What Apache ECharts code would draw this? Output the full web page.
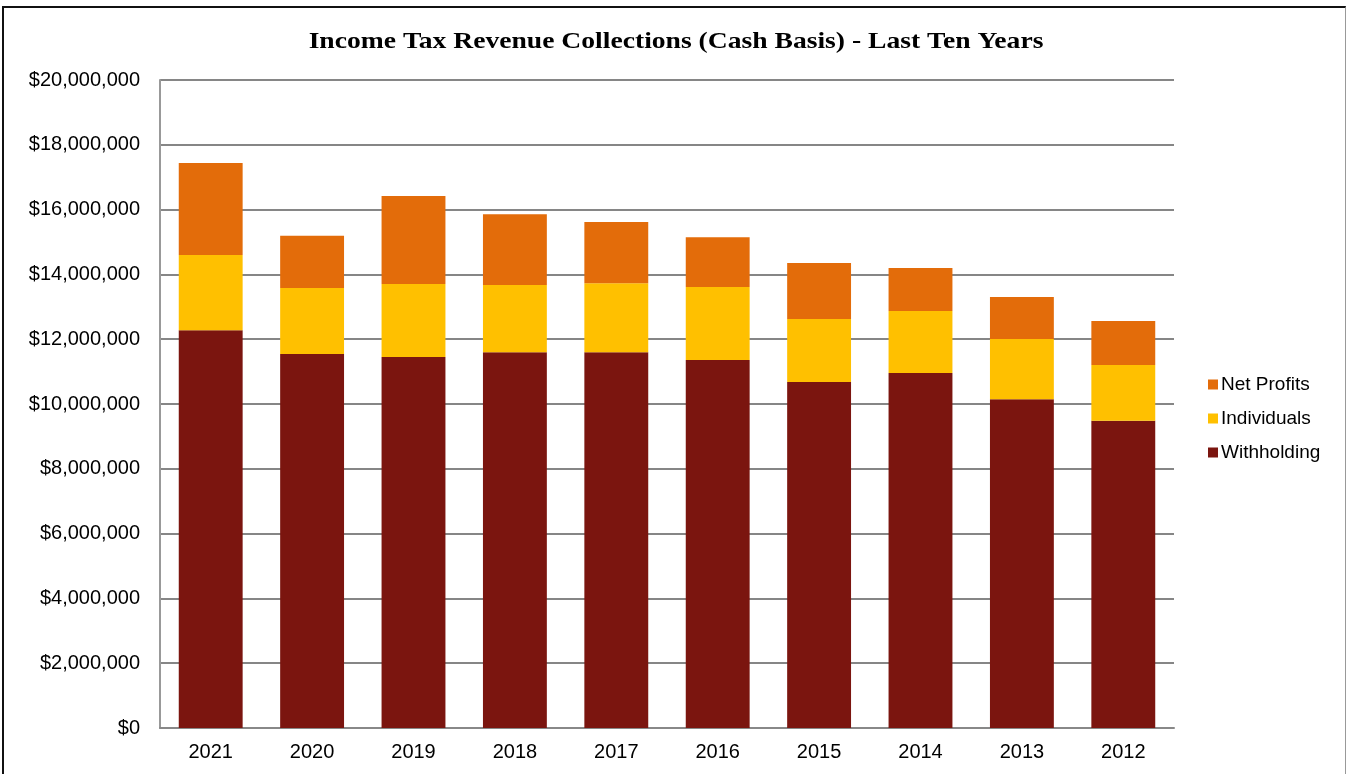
<!DOCTYPE html>
<html>
<head>
<meta charset="utf-8">
<title>Income Tax Revenue Collections</title>
<script src="https://cdn.jsdelivr.net/npm/echarts@6/dist/echarts.min.js"></script>
<style>
  html, body { margin: 0; padding: 0; background: #fff; }
  #frame {
    position: absolute; left: 2px; top: 6px; width: 1344px; height: 768px;
    border-top: 2px solid #111; border-left: 2px solid #111; border-right: 1px solid #999;
    box-sizing: border-box;
  }
  #chart { position: absolute; left: 0; top: 0; width: 1347px; height: 774px; }
</style>
</head>
<body>
<div id="frame"></div>
<div id="chart"></div>
<script>
// Fiscal years, most recent first
const years = ['2021', '2020', '2019', '2018', '2017', '2016', '2015', '2014', '2013', '2012'];

// Collections by source, in dollars
const withholding = [12280000, 11540000, 11450000, 11600000, 11600000, 11360000, 10680000, 10960000, 10150000, 9480000];
const individuals = [2320000, 2040000, 2250000, 2070000, 2130000, 2250000, 1940000, 1910000, 1860000, 1720000];
const netProfits = [2840000, 1610000, 2720000, 2190000, 1890000, 1540000, 1730000, 1330000, 1290000, 1360000];

const seriesNames = ['Withholding', 'Individuals', 'Net Profits'];
const legendOrder = ['Net Profits', 'Individuals', 'Withholding'];
const titleText = 'Income Tax Revenue Collections (Cash Basis) - Last Ten Years';

const font = '"Liberation Sans", Arial, sans-serif';

const chart = echarts.init(document.getElementById('chart'), null, { renderer: 'canvas' });

function money(v) {
  return '$' + v.toString().replace(/\B(?=(\d{3})+(?!\d))/g, ',');
}

function bar(name, data, color) {
  return {
    name: name,
    type: 'bar',
    stack: 'total',
    data: data,
    barCategoryGap: '37%',
    itemStyle: { color: color },
    emphasis: { disabled: true }
  };
}

chart.setOption({
  animation: false,
  backgroundColor: 'transparent',
  // Wide, heavy serif heading
  graphic: [{
    type: 'text',
    x: 676,
    y: 42,
    scaleX: 1.2,
    silent: true,
    style: {
      text: titleText,
      font: 'bold 23px "Liberation Serif", "Times New Roman", serif',
      fill: '#000',
      textAlign: 'center',
      textVerticalAlign: 'middle'
    }
  }],
  legend: {
    data: legendOrder,
    orient: 'vertical',
    left: 1203,
    top: 370,
    itemWidth: 10,
    itemHeight: 10,
    itemGap: 15,
    icon: 'rect',
    textStyle: { fontFamily: font, fontSize: 19, color: '#000', padding: [0, 0, 0, -2] }
  },
  grid: { left: 160, right: 173, top: 80, bottom: 46, containLabel: false },
  xAxis: {
    type: 'category',
    data: years,
    axisLine: { lineStyle: { color: '#888', width: 2 } },
    axisTick: { show: false },
    axisLabel: { fontFamily: font, fontSize: 20, color: '#000', margin: 14 },
    splitLine: { show: false }
  },
  yAxis: {
    type: 'value',
    min: 0,
    max: 20000000,
    interval: 2000000,
    axisLine: { show: true, lineStyle: { color: '#999', width: 2 } },
    axisTick: { show: false },
    axisLabel: { fontFamily: font, fontSize: 20, color: '#000', margin: 20, formatter: money },
    splitLine: { lineStyle: { color: '#868686', width: 2 } }
  },
  series: [
    bar(seriesNames[0], withholding, '#7B150F'),
    bar(seriesNames[1], individuals, '#FFC000'),
    bar(seriesNames[2], netProfits, '#E36C0A')
  ]
});
</script>
</body>
</html>
